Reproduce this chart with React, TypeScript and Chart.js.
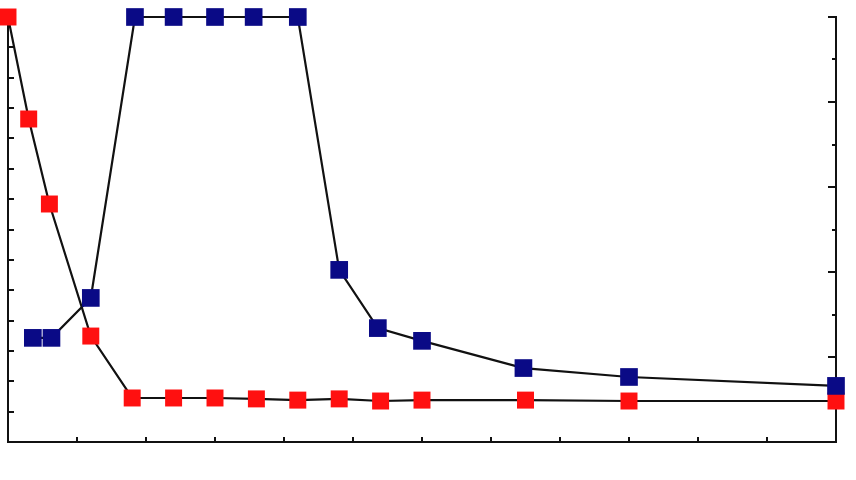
import React, { useEffect, useRef } from "react";
import { Chart, registerables } from "chart.js";

Chart.register(...registerables);

// x positions (time units), y values
const redX = [0, 3, 6, 12, 18, 24, 30, 36, 42, 48, 54, 60, 75, 90, 120];
const redY = [14, 10.64, 7.84, 3.49, 1.45, 1.45, 1.45, 1.42, 1.38, 1.42, 1.35, 1.38, 1.38, 1.35, 1.35];

const blueX = [3.6, 6.3, 12, 18.4, 24, 30, 35.6, 42, 48, 53.6, 60, 74.7, 90, 120];
const blueY = [2.45, 2.45, 3.39, 10, 10, 10, 10, 10, 4.05, 2.68, 2.38, 1.74, 1.53, 1.32];

const xTicks = [0, 10, 20, 30, 40, 50, 60, 70, 80, 90, 100, 110, 120];
const leftMax = 14;
const rightMax = 10;

const innerTicks = {
  id: "innerTicks",
  beforeDatasetsDraw(chart: any) {
    const { ctx, chartArea, scales } = chart;
    ctx.save();
    ctx.strokeStyle = "#111";
    ctx.lineWidth = 2;
    ctx.beginPath();
    const x = scales.x;
    for (const v of xTicks) {
      const px = Math.round(x.getPixelForValue(v));
      ctx.moveTo(px, chartArea.bottom);
      ctx.lineTo(px, chartArea.bottom - 5);
    }
    const y = scales.y;
    for (let v = 0; v <= leftMax; v++) {
      const py = Math.round(y.getPixelForValue(v));
      ctx.moveTo(chartArea.left, py);
      ctx.lineTo(chartArea.left + 6, py);
    }
    const y1 = scales.y1;
    for (let v = 0; v <= rightMax; v++) {
      const py = Math.round(y1.getPixelForValue(v));
      const len = v % 2 === 0 ? 8 : 4;
      ctx.moveTo(chartArea.right, py);
      ctx.lineTo(chartArea.right - len, py);
    }
    ctx.stroke();
    ctx.restore();
  },
};

export default function App() {
  const ref = useRef<HTMLCanvasElement | null>(null);
  useEffect(() => {
    if (!ref.current) return;
    const chart = new Chart(ref.current, {
      type: "line",
      data: {
        datasets: [
          {
            label: "blue",
            data: blueX.map((v, i) => ({ x: v, y: blueY[i] })),
            yAxisID: "y1",
            borderColor: "#111",
            borderWidth: 2.2,
            pointStyle: "rect",
            pointRadius: 12.5,
            pointBackgroundColor: "#0a0a86",
            pointBorderColor: "#0a0a86",
            pointBorderWidth: 0,
            tension: 0,
            clip: false,
          },
          {
            label: "red",
            data: redX.map((v, i) => ({ x: v, y: redY[i] })),
            yAxisID: "y",
            borderColor: "#111",
            borderWidth: 2.2,
            pointStyle: "rect",
            pointRadius: 12,
            pointBackgroundColor: "#ff1010",
            pointBorderColor: "#ff1010",
            pointBorderWidth: 0,
            tension: 0,
            clip: false,
          },
        ],
      },
      options: {
        animation: false,
        responsive: false,
        maintainAspectRatio: false,
        layout: { autoPadding: false, padding: { left: 8, right: 20, top: 17, bottom: 38 } },
        plugins: { legend: { display: false }, tooltip: { enabled: false } },
        scales: {
          x: {
            type: "linear",
            min: 0,
            max: 120,
            ticks: { display: false, stepSize: 10 },
            grid: { display: false, drawTicks: false },
            border: { display: true, color: "#111", width: 2 },
          },
          y: {
            position: "left",
            min: 0,
            max: leftMax,
            ticks: { display: false, stepSize: 1 },
            grid: { display: false, drawTicks: false },
            border: { display: true, color: "#111", width: 2 },
          },
          y1: {
            position: "right",
            min: 0,
            max: rightMax,
            ticks: { display: false, stepSize: 1 },
            grid: { display: false, drawTicks: false },
            border: { display: true, color: "#111", width: 2 },
          },
        },
      },
      plugins: [innerTicks],
    });
    return () => chart.destroy();
  }, []);
  return (
    <div style={{ position: "absolute", left: 0, top: 0, width: 856, height: 480, background: "#fff" }}>
      <canvas ref={ref} width={856} height={480} style={{ width: 856, height: 480 }} />
    </div>
  );
}
